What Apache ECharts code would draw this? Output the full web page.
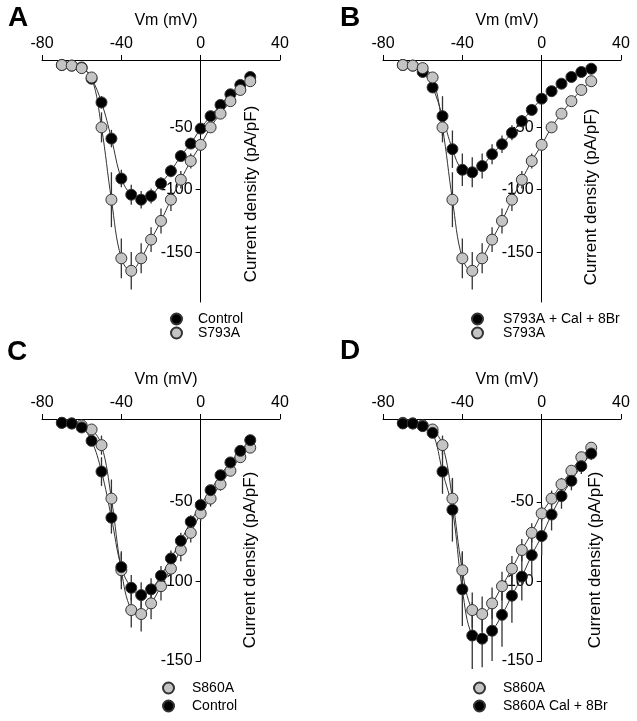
<!DOCTYPE html>
<html>
<head>
<meta charset="utf-8">
<script src="https://cdn.jsdelivr.net/npm/echarts@6/dist/echarts.min.js"></script>
<style>html,body{margin:0;padding:0;background:#fff;}#c{width:637px;height:721px;}</style>
</head>
<body>
<div id="c"></div>
<script>
// Membrane potential (mV)
const voltage = [-70,-65,-60,-55,-50,-45,-40,-35,-30,-25,-20,-15,-10,-5,0,5,10,15,20,25];
const xTicks = [-80, -40, 0, 40];
const yTicks = [-150, -100, -50];

// Panel A / B
const aControl    = [0,-0.5,-2,-11,-30,-59,-91,-104,-108,-105,-95,-85,-73,-63,-51,-41,-32,-23.5,-16,-9.6];
const aControlErr = [0.5,0.5,1,2,5,7,7,8,7,6,5,5,4,4,3,3,3,2,2,2];
const s793A       = [0,-0.5,-2.5,-10,-50,-108,-155,-165,-155,-140,-125,-108,-92,-77,-64,-50,-39,-29,-20,-13];
const s793AErr    = [0.5,0.5,1,3,12,22,16,15,12,10,10,9,7,6,5,4,3,3,2,2];
const bCal        = [0,-0.5,-5.6,-18,-41,-67.5,-84,-86,-81,-71.5,-63.5,-54.4,-45,-36,-27,-21,-15,-9.6,-5.6,-3];
const bCalErr     = [0.5,0.5,2,4,16,15,13,12,10,8,7,6,5,4,3,3,3,2,2,2];

// Panel C / D
const cControl    = [-0.4,-0.8,-3.3,-11.7,-31,-60,-91,-104,-108.6,-105,-96.4,-85.6,-74.5,-62.5,-52,-42.7,-33.3,-25.3,-18,-11.3];
const cControlErr = [0.5,0.5,1,3,9,10,9,8,8,7,6,5,5,4,4,3,3,3,2,2];
const s860A       = [-0.4,-0.8,-2,-4.6,-14.4,-48,-93,-118,-120.5,-113.8,-103,-92,-80.3,-69.5,-57.3,-48,-39,-30.5,-22,-16];
const s860AErr    = [0.5,0.5,1,2,6,12,12,11,11,10,9,8,7,6,5,5,4,3,3,2];
const dCal        = [-0.8,-0.8,-2.5,-6.7,-31,-55,-105,-134,-136,-131,-121,-109,-97,-83.5,-71.5,-58,-46.4,-36.8,-27.6,-19.7];
const dCalErr     = [0.5,0.5,1,3,14,20,23,21,18,19,20,17,15,14,12,10,8,6,5,4];

const FONT = 'Liberation Sans, Arial, sans-serif';
const BLACK = '#000000', GRAY = '#c4c4c4';
const XMIN = xTicks[0], XMAX = xTicks[xTicks.length-1];

const panels = [
  {grid:{left:42, top:60, width:238, height:242}, ymin:-190, ymax:4,
   sets:[{name:'Control', y:aControl, e:aControlErr, c:BLACK},
         {name:'S793A', y:s793A, e:s793AErr, c:GRAY}]},
  {grid:{left:383, top:60, width:238, height:242}, ymin:-190, ymax:4,
   sets:[{name:'S793A + Cal + 8Br', y:bCal, e:bCalErr, c:BLACK},
         {name:'S793A', y:s793A, e:s793AErr, c:GRAY}]},
  {grid:{left:42, top:419, width:238, height:242}, ymin:-150, ymax:2,
   sets:[{name:'S860A', y:s860A, e:s860AErr, c:GRAY},
         {name:'Control', y:cControl, e:cControlErr, c:BLACK}]},
  {grid:{left:383, top:419, width:238, height:242}, ymin:-150, ymax:2,
   sets:[{name:'S860A', y:s860A, e:s860AErr, c:GRAY},
         {name:'S860A Cal + 8Br', y:dCal, e:dCalErr, c:BLACK}]}
];

const grids = [], xAxes = [], yAxes = [], series = [];
panels.forEach((p, i) => {
  grids.push(Object.assign({containLabel:false}, p.grid));
  xAxes.push({
    gridIndex:i, type:'value', min:XMIN, max:XMAX, interval:40, position:'top',
    name:'Vm (mV)', nameLocation:'middle', nameGap:31,
    nameTextStyle:{fontSize:16, fontFamily:FONT, color:'#000', padding:[0,0,0,10]},
    axisLine:{onZero:false, lineStyle:{color:'#000', width:1}},
    axisTick:{show:true, length:5, inside:false, lineStyle:{color:'#000'}},
    axisLabel:{fontSize:16, fontFamily:FONT, color:'#000', margin:8},
    splitLine:{show:false}
  });
  // y axis sits at Vm = 0: shift it from the grid's left edge by the x-scale position of 0
  const zeroShift = (0 - XMIN) / (XMAX - XMIN) * p.grid.width;
  yAxes.push({
    gridIndex:i, type:'value', min:p.ymin, max:p.ymax, position:'left', offset:-zeroShift,
    axisLine:{show:true, onZero:false, lineStyle:{color:'#000', width:1}},
    axisTick:{show:true, length:5, inside:false, customValues:yTicks, lineStyle:{color:'#000'}},
    axisLabel:{fontSize:16, fontFamily:FONT, color:'#000', margin:8, customValues:yTicks},
    splitLine:{show:false}
  });
  // fitted lines
  p.sets.forEach(s => {
    series.push({
      type:'line', xAxisIndex:i, yAxisIndex:i, smooth:0.4, showSymbol:false, silent:true,
      data: voltage.map((v,k)=>[v, s.y[k]]),
      lineStyle:{color:'#333', width:1}, z:2
    });
  });
  // error bars
  p.sets.forEach(s => {
    series.push({
      type:'custom', xAxisIndex:i, yAxisIndex:i, silent:true, z:3,
      data: voltage.map((v,k)=>[v, s.y[k]-s.e[k], s.y[k]+s.e[k]]),
      encode:{x:0, y:[1,2]},
      renderItem:(params, api) => {
        const a = api.coord([api.value(0), api.value(1)]);
        const b = api.coord([api.value(0), api.value(2)]);
        return {type:'line', shape:{x1:a[0], y1:a[1], x2:b[0], y2:b[1]},
                style:{stroke:'#333', lineWidth:1.3}};
      }
    });
  });
  // markers
  p.sets.forEach((s, j) => {
    series.push({
      type:'scatter', name:s.name, xAxisIndex:i, yAxisIndex:i, symbol:'circle', symbolSize:11,
      data: voltage.map((v,k)=>[v, s.y[k]]),
      itemStyle:{color:s.c, borderColor:'#333', borderWidth:1, opacity:1}, z:4+j
    });
  });
});

function mkLegend(names, left, top, gap, pad){
  return {data:names, orient:'vertical', left:left, top:top, itemGap:gap, padding:0,
    icon:'circle', itemWidth:11, itemHeight:11, selectedMode:false,
    textStyle:{fontSize:14, fontFamily:FONT, color:'#000', padding:[0,0,0,pad]}};
}

function letter(t, x, y){
  return {type:'text', x:x, y:y, style:{text:t, fontSize:28, fontWeight:'bold', fontFamily:FONT, fill:'#000', align:'left', verticalAlign:'middle'}};
}
function yName(x, y){
  return {type:'text', x:x, y:y, rotation:Math.PI/2,
    style:{text:'Current density (pA/pF)', fontSize:17, fontFamily:FONT, fill:'#000', align:'center', verticalAlign:'middle'}};
}

const chart = echarts.init(document.getElementById('c'), null, {renderer:'canvas'});
chart.setOption({
  animation:false,
  backgroundColor:'#fff',
  grid:grids, xAxis:xAxes, yAxis:yAxes, series:series,
  legend:[
    mkLegend(['Control','S793A'], 170, 312, 0, 11),
    mkLegend(['S793A + Cal + 8Br','S793A'], 471, 312, 0, 15),
    mkLegend(['S860A','Control'], 162, 681, 4, 13),
    mkLegend(['S860A','S860A Cal + 8Br'], 473, 681, 4, 13)
  ],
  graphic:[
    letter('A', 8, 18), letter('B', 340, 18), letter('C', 7, 352), letter('D', 340, 351),
    yName(251, 194), yName(591, 197), yName(250, 560), yName(595, 560)
  ]
});
</script>
</body>
</html>
